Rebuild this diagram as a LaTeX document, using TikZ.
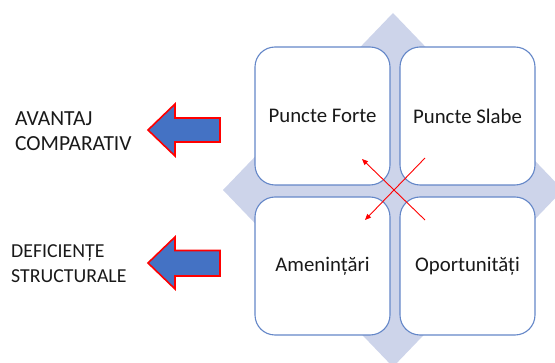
\documentclass[tikz,border=0pt]{standalone}
\usepackage{fontspec}
\setmainfont{Carlito}
\usetikzlibrary{arrows.meta}
\definecolor{boxblue}{RGB}{100,135,200}
\definecolor{diafill}{RGB}{205,212,234}
\definecolor{arrblue}{RGB}{68,114,196}
\definecolor{txt}{RGB}{25,25,25}
\tikzset{
  quad/.style={draw=boxblue, line width=1.1pt, fill=white, rounded corners=20pt,
    minimum width=135pt, minimum height=138pt, inner sep=0pt, anchor=center,
    font=\fontsize{20.8}{24}\selectfont, text=txt},
  sidelabel/.style={anchor=west, align=left, inner sep=0pt, text=txt},
  bigarrow/.style={draw=red, line width=1.6pt, fill=arrblue, line join=miter},
  redline/.style={draw=red, line width=0.9pt, -{Triangle[length=6pt,width=5pt]}}
}
\begin{document}
\begin{tikzpicture}[x=1pt,y=-1pt]
\useasboundingbox (0,0) rectangle (555,363);
\clip (0,0) rectangle (555,363);
% diamond
\fill[diafill] (393,13) -- (563,190) -- (393,367) -- (223,190) -- cycle;
% boxes
\node[quad] (pf) at (322.5,116) {Puncte Forte};
\node[quad] (ps) at (467.5,116) {Puncte Slabe};
\node[quad] (am) at (322.5,266) {Amenințări};
\node[quad] (op) at (467.5,266) {Oportunități};
% red cross
\coordinate (a1) at (425,220);
\coordinate (a2) at (362,159);
\coordinate (b1) at (425,158);
\coordinate (b2) at (365,220);
\draw[redline] (a1) -- (a2);
\draw[redline] (b1) -- (b2);
% left arrows
\draw[bigarrow] (148,130) -- (175,104) -- (175,118) -- (220,118) -- (220,142) -- (175,142) -- (175,156) -- cycle;
\draw[bigarrow] (148,263) -- (175,237) -- (175,250.5) -- (220,250.5) -- (220,276) -- (175,276) -- (175,289) -- cycle;
% labels
\node[sidelabel, font=\fontsize{21.5}{24.5}\selectfont] (av) at (15,131) {AVANTAJ\\COMPARATIV};
\node[sidelabel, font=\fontsize{19.8}{25}\selectfont] (df) at (11,264) {DEFICIENȚE\\STRUCTURALE};
\end{tikzpicture}
\end{document}
